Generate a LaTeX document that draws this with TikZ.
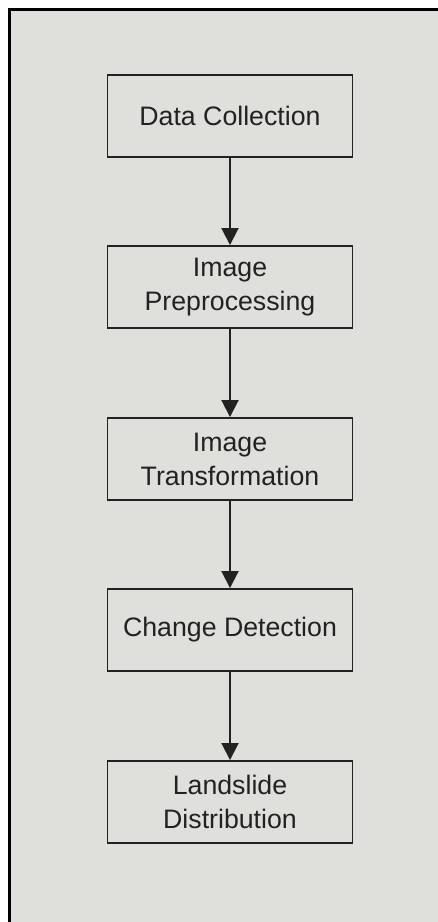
\documentclass[tikz,border=0pt]{standalone}
\usepackage{fontspec}
\setmainfont{Liberation Sans}
\usepackage{xcolor}
\usepackage{tikz}
\usetikzlibrary{positioning}
\usetikzlibrary{arrows, shapes, arrows.meta}
\definecolor{panelgray}{HTML}{DFDFDB}
\definecolor{inkgray}{HTML}{222222}
\tikzstyle{process} = [rectangle, minimum width=4.9cm, minimum height=1.64cm, text centered, align=center, draw=inkgray, line width=1.1pt, fill=panelgray, text=inkgray, font=\fontsize{15.2}{19.3}\selectfont]
\tikzstyle{arrow} = [line width=1.1pt, inkgray, -{Triangle[length=0.34cm, width=0.34cm]}]

\begin{document}
\begin{tikzpicture}
\useasboundingbox (0,0) rectangle (8.76,-18.44);
\fill[white] (0,0) rectangle (8.76,-18.44);
\fill[panelgray] (0.19,-0.19) rectangle (8.76,-18.44);
\draw[line width=1.7pt, black] (0.19,-18.44) -- (0.19,-0.19) -- (8.76,-0.19);
\node (collect) [process] at (4.6,-2.32) {Data Collection};
\node (preproc) [process] at (4.6,-5.74) {Image\\Preprocessing};
\node (transf) [process] at (4.6,-9.18) {Image\\Transformation};
\node (change) [process] at (4.6,-12.6) {Change Detection};
\node (slide) [process] at (4.6,-16.04) {Landslide\\Distribution};
\draw [arrow] (collect) -- (preproc);
\draw [arrow] (preproc) -- (transf);
\draw [arrow] (transf) -- (change);
\draw [arrow] (change) -- (slide);
\end{tikzpicture}
\end{document}
